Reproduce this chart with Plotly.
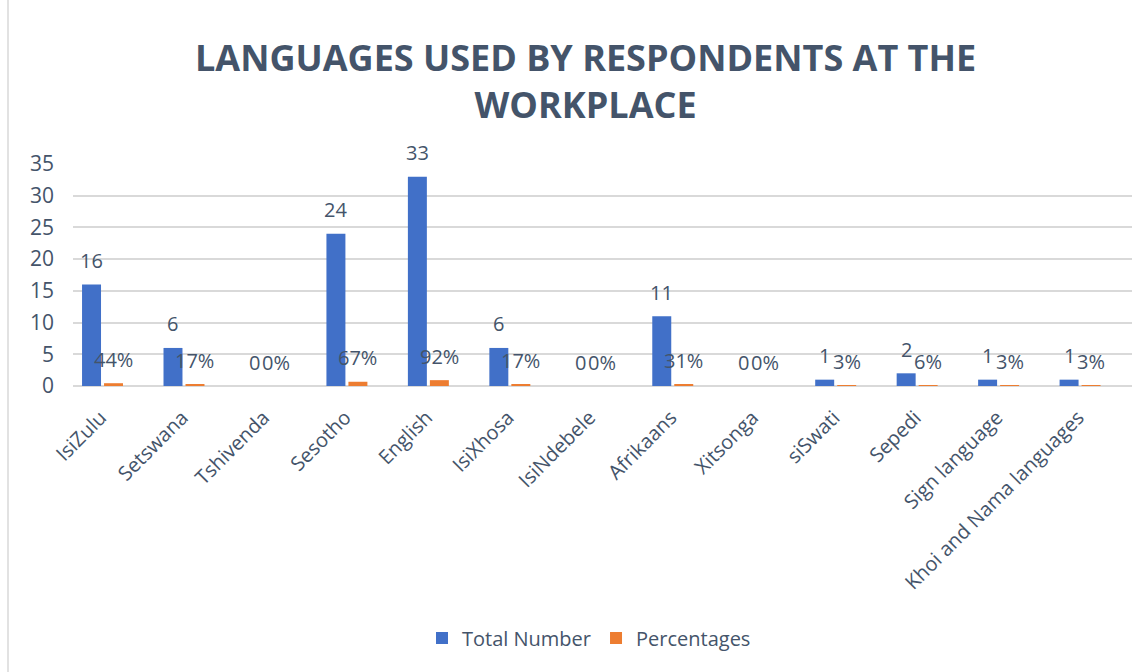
import plotly.graph_objects as go

# Languages used by respondents at the workplace
languages = ["IsiZulu", "Setswana", "Tshivenda", "Sesotho", "English", "IsiXhosa",
             "IsiNdebele", "Afrikaans", "Xitsonga", "siSwati", "Sepedi",
             "Sign language", "Khoi and Nama languages"]
total_number = [16, 6, 0, 24, 33, 6, 0, 11, 0, 1, 2, 1, 1]
percentages = [0.44, 0.17, 0.00, 0.67, 0.92, 0.17, 0.00, 0.31, 0.00, 0.03, 0.06, 0.03, 0.03]

TEXT = "#44546A"
GRID = "#D9D9D9"
FONT = "Open Sans"
BLUE = "#4170C8"
ORANGE = "#ED7D31"

W, H = 1145, 672
M_L, M_R, M_T, M_B = 73, 13, 164, 286
PLOT_W, PLOT_H = W - M_L - M_R, H - M_T - M_B
BAR_W = 0.233
OFF_TOTAL = -0.389
OFF_PCT = -0.119
cat_px = PLOT_W / len(languages)


def py(px):
    """Convert a pixel row from the top of the figure to paper units."""
    return (H - M_B - px) / PLOT_H


def px_x(px):
    """Convert a pixel column from the left of the figure to paper units."""
    return (px - M_L) / PLOT_W


fig = go.Figure()
fig.add_trace(go.Bar(
    x=languages, y=total_number, name="Total Number",
    marker=dict(color=BLUE, line=dict(width=0)),
    width=BAR_W, offset=OFF_TOTAL,
))
fig.add_trace(go.Bar(
    x=languages, y=percentages, name="Percentages",
    marker=dict(color=ORANGE, line=dict(width=0)),
    width=BAR_W, offset=OFF_PCT,
))

# value labels above each bar
annotations = []
for lang, n, p in zip(languages, total_number, percentages):
    annotations.append(dict(
        x=lang, y=n, xref="x", yref="y", text=f"{n}", showarrow=False,
        xshift=(OFF_TOTAL + BAR_W / 2) * cat_px, yshift=24, yanchor="middle",
        font=dict(family=FONT, size=20, color=TEXT),
    ))
    annotations.append(dict(
        x=lang, y=p, xref="x", yref="y", text=f"{p:.0%}", showarrow=False,
        xshift=(OFF_PCT + BAR_W / 2) * cat_px, yshift=24, yanchor="middle",
        font=dict(family=FONT, size=20, color=TEXT),
    ))

# chart title
annotations.append(dict(
    text="<b>LANGUAGES USED BY RESPONDENTS AT THE<br>WORKPLACE</b>",
    xref="paper", yref="paper", x=px_x(585), y=py(81),
    xanchor="center", yanchor="middle", showarrow=False,
    font=dict(family=FONT, size=36, color=TEXT),
))
fig.update_layout(annotations=annotations)

# chart frame edge on the left
fig.add_shape(type="line", xref="paper", yref="paper",
              x0=px_x(8), x1=px_x(8), y0=py(H), y1=py(0),
              line=dict(color=GRID, width=1.5))

fig.update_layout(
    width=W, height=H,
    margin=dict(l=M_L, r=M_R, t=M_T, b=M_B),
    paper_bgcolor="white", plot_bgcolor="white",
    barmode="group",
    font=dict(family=FONT, color=TEXT),
    xaxis=dict(
        type="category", tickangle=-45, showgrid=False, showline=False,
        ticks="", ticklabelstandoff=15, ticklabelshift=-13,
        tickfont=dict(family=FONT, size=20, color=TEXT),
    ),
    yaxis=dict(
        range=[0, 35], dtick=5, showgrid=True, gridcolor=GRID, gridwidth=1.5,
        zeroline=True, zerolinecolor=GRID, zerolinewidth=1.5,
        showline=False, ticks="", ticklabelstandoff=18,
        tickfont=dict(family=FONT, size=21, color=TEXT),
    ),
    legend=dict(
        orientation="h", x=px_x(589), xanchor="center",
        y=py(638), yanchor="middle",
        font=dict(family=FONT, size=20, color=TEXT),
    ),
    showlegend=True,
)

fig.write_html("out.html")
